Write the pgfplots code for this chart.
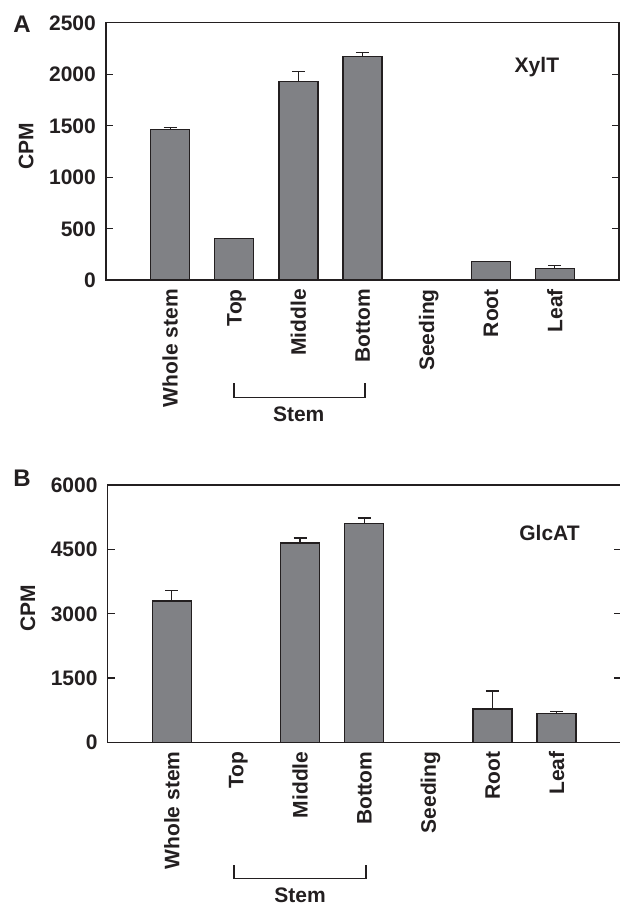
\documentclass[border=0pt]{standalone}
\usepackage{fontspec}
\setmainfont{Liberation Sans}
\usepackage{pgfplots}
\pgfplotsset{compat=1.18}
\definecolor{ink}{RGB}{35,31,32}
\definecolor{barfill}{RGB}{128,129,133}
\newcommand{\fs}{\bfseries\fontsize{21}{21}\selectfont}
\pgfplotsset{
  panel/.style={
    scale only axis, width=513pt, height=257.3pt,
    xmin=0, xmax=8, ymin=0,
    anchor=south west,
    axis line style={ink, line width=1.1pt},
    tick align=inside, major tick length=7pt,
    xtick={1,...,7},
    xticklabels={Whole stem,Top,Middle,Bottom,Seeding,Root,Leaf},
    xtick style={draw=none},
    ytick style={ink, line width=1.1pt},
    /pgf/number format/assume math mode=true,
    /pgf/number format/1000 sep={},
    xticklabel style={rotate=90, anchor=east, inner sep=0pt, text height=15pt, text depth=0pt, font=\fs, text=ink},
    xticklabel shift=9pt,
    yticklabel style={anchor=east, inner sep=0pt, text height=15pt, text depth=0pt, font=\fs, text=ink},
    yticklabel shift=10pt,
    ylabel={CPM},
    every axis y label/.style={at={(axis description cs:-0.156,0.52)}, rotate=90, anchor=center, inner sep=0pt, text height=15pt, text depth=0pt, font=\fs, text=ink},
  },
  barstyle/.style={
    ybar, bar width=39pt, fill=barfill, draw=ink, line width=1.4pt,
    error bars/.cd, y dir=plus, y explicit,
    error bar style={ink, line width=1.2pt},
    error mark options={rotate=90, ink, line width=1.2pt, mark size=6.5pt},
  },
}
\begin{document}
\begin{tikzpicture}
% Panel A
\begin{axis}[panel, at={(106pt,-280pt)}, ymax=2500,
  ytick={0,500,1000,1500,2000,2500},
  yticklabels={0,500,1000,1500,2000,2500}]
\addplot[barstyle] coordinates {
  (1,1464) +- (0,16)
  (2,401)  +- (0,0)
  (3,1927) +- (0,97)
  (4,2173) +- (0,36)
  (5,0)    +- (0,0)
  (6,181)  +- (0,0)
  (7,110)  +- (0,33)
};
\node[anchor=base, font=\fs, text=ink] at (axis cs:6.72,2014) {XylT};
\end{axis}
% Panel B
\begin{axis}[panel, at={(107.7pt,-742.3pt)}, ymax=6000,
  ytick={0,1500,3000,4500,6000},
  yticklabels={0,1500,3000,4500,6000}]
\addplot[barstyle] coordinates {
  (1,3295) +- (0,240)
  (2,0)    +- (0,0)
  (3,4648) +- (0,116)
  (4,5107) +- (0,124)
  (5,0)    +- (0,0)
  (6,777)  +- (0,419)
  (7,667)  +- (0,47)
};
\node[anchor=base, font=\fs, text=ink] at (axis cs:6.89,4717) {GlcAT};
\end{axis}
% panel letters
\node[anchor=base, inner sep=0pt, font=\bfseries\fontsize{24}{24}\selectfont, text=ink] at (22pt,-32.3pt) {A};
\node[anchor=base, inner sep=0pt, font=\bfseries\fontsize{24}{24}\selectfont, text=ink] at (22pt,-486.7pt) {B};
% Stem brackets
\draw[ink, line width=1.1pt] (234pt,-383pt) -- (234pt,-397.3pt) -- (365pt,-397.3pt) -- (365pt,-383pt);
\node[anchor=base, inner sep=0pt, font=\fs, text=ink] at (298.7pt,-421.7pt) {Stem};
\draw[ink, line width=1.1pt] (234pt,-865pt) -- (234pt,-878.3pt) -- (366pt,-878.3pt) -- (366pt,-865pt);
\node[anchor=base, inner sep=0pt, font=\fs, text=ink] at (300pt,-902pt) {Stem};
\pgfresetboundingbox
\useasboundingbox (0pt,0pt) rectangle (620pt,-906pt);
\end{tikzpicture}
\end{document}
